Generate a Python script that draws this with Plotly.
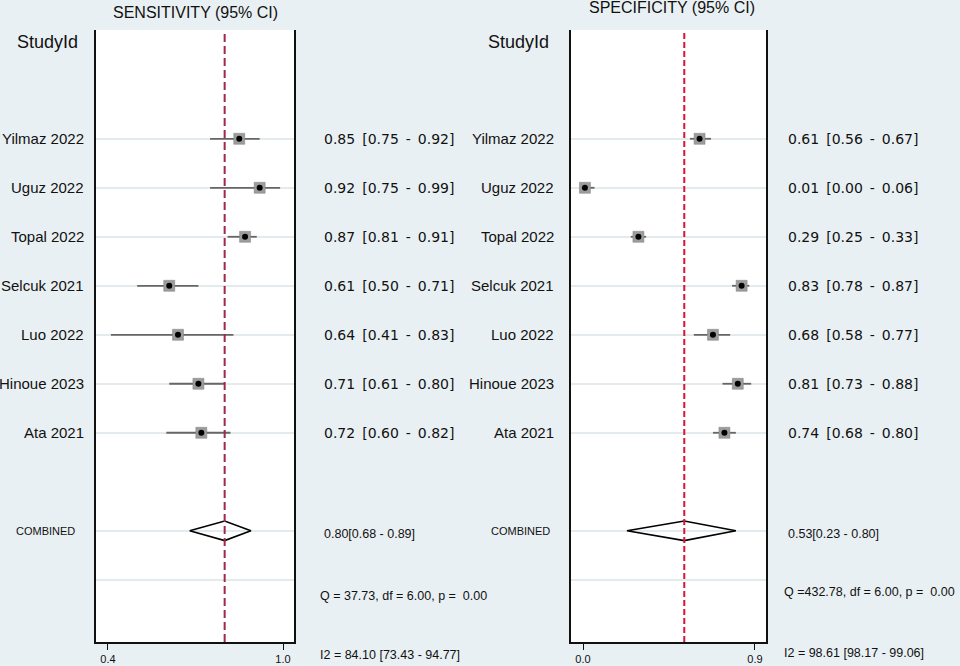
import plotly.graph_objects as go

studies = ["Yilmaz 2022", "Uguz 2022", "Topal 2022", "Selcuk 2021",
           "Luo 2022", "Hinoue 2023", "Ata 2021"]

sens = [0.85, 0.92, 0.87, 0.61, 0.64, 0.71, 0.72]
sens_lo = [0.75, 0.75, 0.81, 0.50, 0.41, 0.61, 0.60]
sens_hi = [0.92, 0.99, 0.91, 0.71, 0.83, 0.80, 0.82]

spec = [0.61, 0.01, 0.29, 0.83, 0.68, 0.81, 0.74]
spec_lo = [0.56, 0.00, 0.25, 0.78, 0.58, 0.73, 0.68]
spec_hi = [0.67, 0.06, 0.33, 0.87, 0.77, 0.88, 0.80]

pooled_sens = [0.80, 0.68, 0.89]
pooled_spec = [0.53, 0.23, 0.80]

q_sens = "Q = 37.73, df = 6.00, p =  0.00"
i2_sens = "I2 = 84.10 [73.43 - 94.77]"
q_spec = "Q =432.78, df = 6.00, p =  0.00"
i2_spec = "I2 = 98.61 [98.17 - 99.06]"

rows = list(range(1, len(studies) + 1))
comb_row = len(studies) + 2

BG = "#e9f0f3"
W, H = 960, 666
SANS = "Liberation Sans, Arial"
SP = "\u2002"  # en space, the study values are widely spaced

fig = go.Figure()

panels = [
    dict(est=sens, lo=sens_lo, hi=sens_hi, pooled=pooled_sens, xa="x", ya="y",
         title="SENSITIVITY (95% CI)", tx=195, ty=12, lab_x=86, comb_x=77, val_x=322,
         sid_x=15, q=q_sens, i2=i2_sens, qy=596, i2y=655, ref="#9e2a4a", dash="8px,4px"),
    dict(est=spec, lo=spec_lo, hi=spec_hi, pooled=pooled_spec, xa="x2", ya="y2",
         title="SPECIFICITY (95% CI)", tx=672, ty=8, lab_x=556, comb_x=552, val_x=786,
         sid_x=486, q=q_spec, i2=i2_spec, qy=592, i2y=653, ref="#d4163a", dash="6px,3px"),
]

def note(text, x, y, yref="paper", xanchor="left", size=12.5, family=SANS):
    fig.add_annotation(text=text, xref="paper", yref=yref, x=x / W,
                       y=(1 - y / H) if yref == "paper" else y,
                       xanchor=xanchor, yanchor="middle", showarrow=False,
                       font=dict(family=family, size=size, color="#111"))

for p in panels:
    err_p = [h - e for e, h in zip(p["est"], p["hi"])]
    err_m = [e - l for e, l in zip(p["est"], p["lo"])]
    # CI lines + grey boxes
    fig.add_trace(go.Scatter(
        x=p["est"], y=rows, mode="markers", xaxis=p["xa"], yaxis=p["ya"],
        marker=dict(symbol="square", size=11, color="#9c9c9c",
                    line=dict(width=0.5, color="#808080")),
        error_x=dict(type="data", symmetric=False, array=err_p, arrayminus=err_m,
                     thickness=1.8, width=0, color="#666666"),
        showlegend=False, hoverinfo="skip"))
    fig.add_trace(go.Scatter(
        x=p["est"], y=rows, mode="markers", xaxis=p["xa"], yaxis=p["ya"],
        marker=dict(symbol="circle", size=6, color="black"),
        showlegend=False, hoverinfo="skip"))
    # pooled diamond
    e, l, h = p["pooled"]
    fig.add_trace(go.Scatter(
        x=[l, e, h, e, l], y=[comb_row, comb_row - 0.2, comb_row, comb_row + 0.2, comb_row],
        mode="lines", xaxis=p["xa"], yaxis=p["ya"],
        line=dict(color="black", width=1.6),
        showlegend=False, hoverinfo="skip"))
    # reference line at pooled estimate
    fig.add_shape(type="line", xref=p["xa"], yref=p["ya"] + " domain",
                  x0=e, x1=e, y0=0, y1=1,
                  line=dict(color=p["ref"], width=2, dash=p["dash"]))

    note(p["title"], p["tx"], p["ty"], xanchor="center", size=16)
    note("StudyId", p["sid_x"], -0.98, yref=p["ya"], size=18)
    for r, name, v, lo, hi in zip(rows, studies, p["est"], p["lo"], p["hi"]):
        note(name, p["lab_x"], r, yref=p["ya"], xanchor="right", size=15)
        note(f"{v:.2f}{SP}[{lo:.2f}{SP}-{SP}{hi:.2f}]", p["val_x"], r, yref=p["ya"],
             size=14, family="DejaVu Sans")
    note("COMBINED", p["comb_x"], comb_row, yref=p["ya"], xanchor="right", size=11)
    note(f"{e:.2f}[{l:.2f} - {h:.2f}]", p["val_x"], comb_row + 0.07, yref=p["ya"])
    note(p["q"], p["val_x"] - 4, p["qy"])
    note(p["i2"], p["val_x"] - 4, p["i2y"])

y_dom = [24 / H, 636 / H]
yax = dict(range=[11.27, -1.22], domain=y_dom, tickvals=rows + [comb_row, comb_row + 1],
           showticklabels=False, ticks="", showgrid=True, gridcolor="#e3ebee", gridwidth=1.5,
           zeroline=False, showline=True, mirror=True, linecolor="#111", linewidth=1.5)
xax_common = dict(showgrid=False, zeroline=False, showline=True, linecolor="#111",
                  linewidth=1.5, ticks="outside", ticklen=6, tickcolor="#111", tickwidth=1.2,
                  tickformat=".1f", tickfont=dict(family=SANS, size=11, color="#111"))

fig.update_layout(
    width=W, height=H,
    margin=dict(l=0, r=0, t=0, b=0),
    paper_bgcolor=BG, plot_bgcolor="white",
    xaxis=dict(domain=[96 / W, 294 / W], range=[0.3589, 1.0377], tickvals=[0.4, 1.0],
               anchor="y", **xax_common),
    xaxis2=dict(domain=[571 / W, 766 / W], range=[-0.0628, 0.9576], tickvals=[0.0, 0.9],
                anchor="y2", **xax_common),
    yaxis=dict(anchor="x", **yax),
    yaxis2=dict(anchor="x2", **yax),
)

fig.write_html("out.html", config={"displayModeBar": False},
               post_script="document.body.style.margin='0';")
